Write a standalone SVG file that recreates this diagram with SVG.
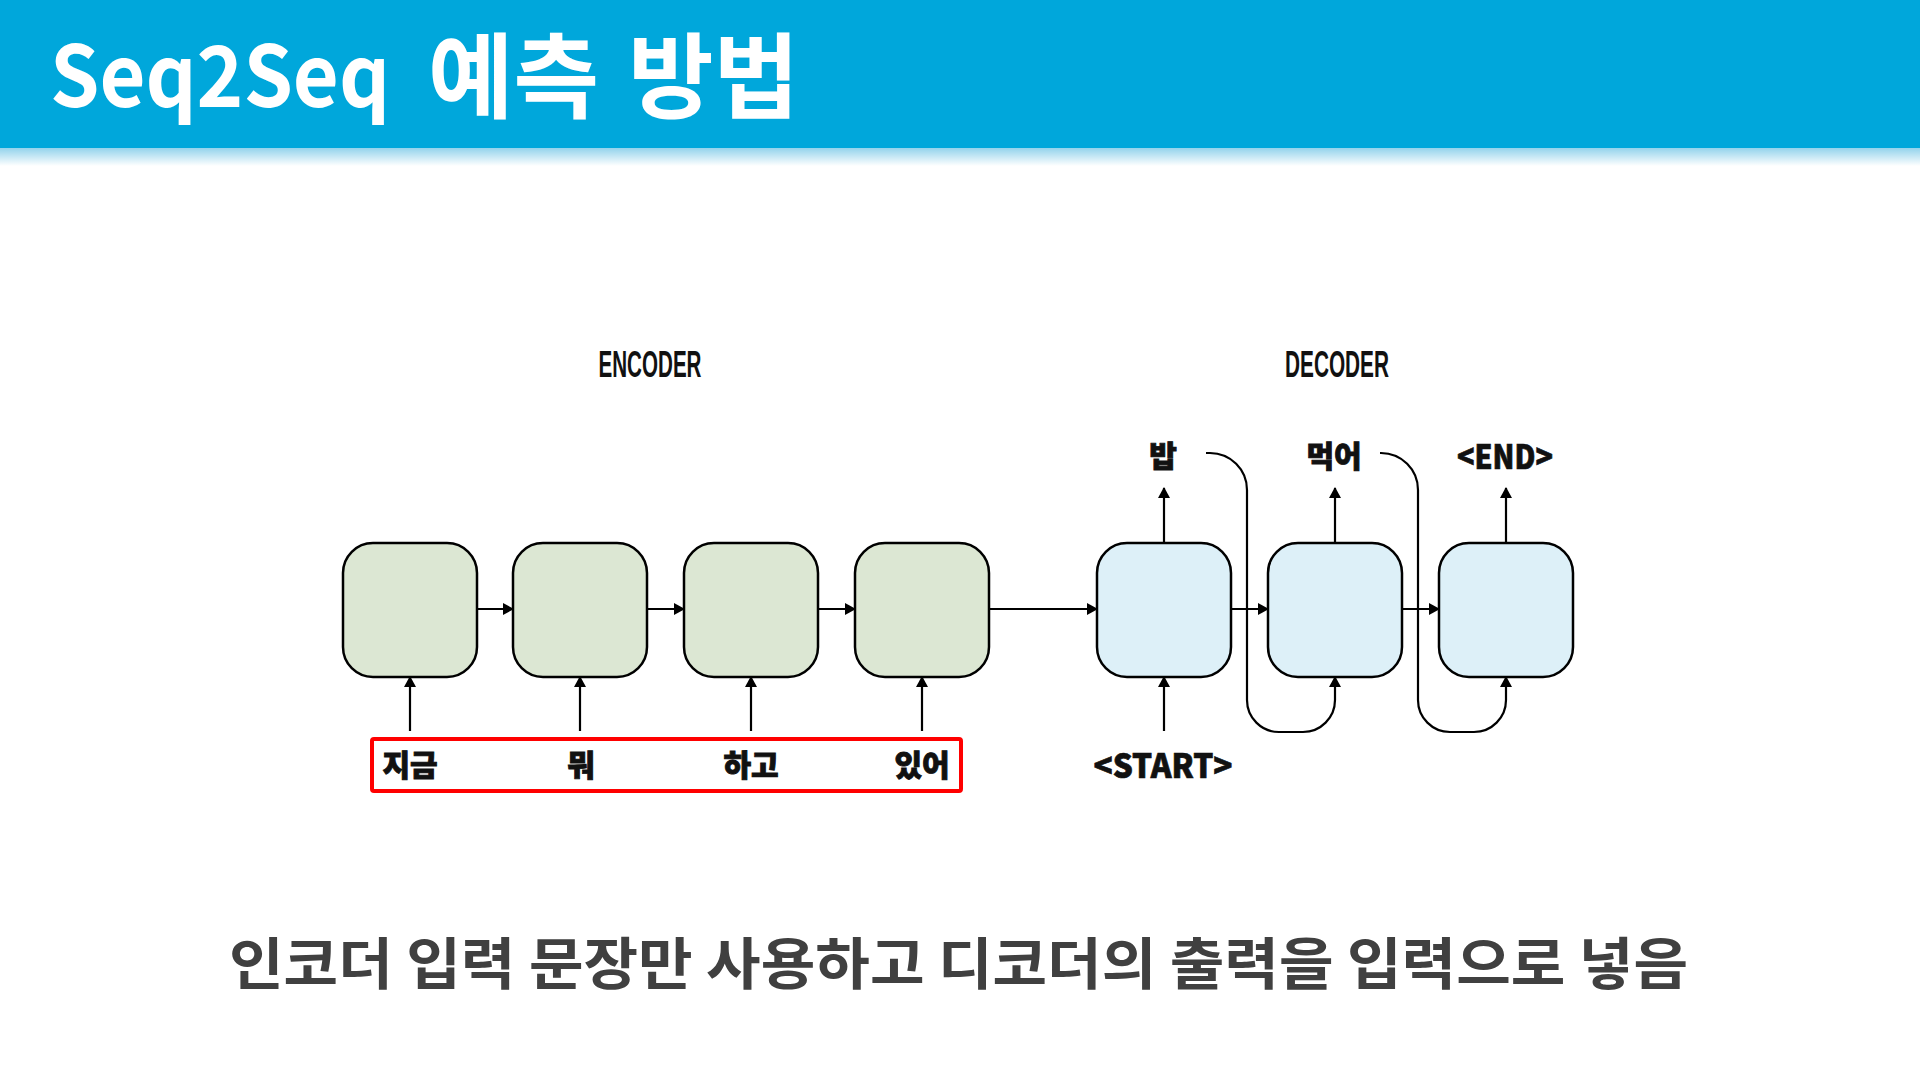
<svg xmlns="http://www.w3.org/2000/svg" width="1920" height="1080" viewBox="0 0 1920 1080">
<style>
.title{font-family:"Noto Sans CJK KR","Noto Sans",sans-serif;font-weight:700;font-size:85px;fill:#fff}
.hg{font-size:93px}
.sec{font-family:"Liberation Sans",sans-serif;font-weight:700;font-size:37px;fill:#111}
.lbl{font-family:"Noto Sans CJK KR","Noto Sans",sans-serif;font-weight:900;font-size:30px;fill:#111;stroke:#111;stroke-width:0.9;text-anchor:middle}
.tok{font-family:"Noto Sans CJK KR","Noto Sans",sans-serif;font-weight:900;font-size:33px;fill:#111;stroke:#111;stroke-width:0.7;text-anchor:middle}
.enc{fill:#DCE7D3;stroke:#000;stroke-width:2.5}
.dec{fill:#DDF0F8;stroke:#000;stroke-width:2.5}
.con{fill:none;stroke:#000;stroke-width:2.2}
.arr{marker-end:url(#ah)}
.cap{font-family:"Noto Sans CJK KR","Noto Sans",sans-serif;font-weight:700;font-size:56px;fill:#404040}
</style>
<defs>
<marker id="ah" markerUnits="userSpaceOnUse" markerWidth="11" markerHeight="12" refX="10" refY="6" orient="auto">
<path d="M0,0 L11,6 L0,12 z" fill="#000"/>
</marker>
<linearGradient id="sh" x1="0" y1="0" x2="0" y2="1">
<stop offset="0" stop-color="#93D3EC"/>
<stop offset="1" stop-color="#FFFFFF"/>
</linearGradient>
</defs>
<rect width="1920" height="1080" fill="#fff"/>
<g id="header">
<rect x="0" y="148" width="1920" height="18" fill="url(#sh)"/>
<rect x="0" y="0" width="1920" height="148" fill="#00A7DB"/>
<text class="title" y="107"><tspan x="50" textLength="340" lengthAdjust="spacingAndGlyphs">Seq2Seq</tspan><tspan class="hg" x="428" y="111">예측</tspan><tspan class="hg" x="628" y="111">방법</tspan></text>
</g>
<text class="sec" x="650" y="377" text-anchor="middle" textLength="103" lengthAdjust="spacingAndGlyphs">ENCODER</text>
<text class="sec" x="1337" y="377" text-anchor="middle" textLength="104" lengthAdjust="spacingAndGlyphs">DECODER</text>

<g id="enc1"><rect class="enc" x="343" y="543" width="134" height="134" rx="30"/></g>
<g id="enc2"><rect class="enc" x="513" y="543" width="134" height="134" rx="30"/></g>
<g id="enc3"><rect class="enc" x="684" y="543" width="134" height="134" rx="30"/></g>
<g id="enc4"><rect class="enc" x="855" y="543" width="134" height="134" rx="30"/></g>
<g id="dec1"><rect class="dec" x="1097" y="543" width="134" height="134" rx="30"/></g>
<g id="dec2"><rect class="dec" x="1268" y="543" width="134" height="134" rx="30"/></g>
<g id="dec3"><rect class="dec" x="1439" y="543" width="134" height="134" rx="30"/></g>

<g id="inputs">
<rect x="372" y="739" width="589" height="52" rx="2" fill="none" stroke="#FF0000" stroke-width="4"/>
<text class="lbl" x="410" y="776">지금</text>
<text class="lbl" x="581" y="776">뭐</text>
<text class="lbl" x="751" y="776">하고</text>
<text class="lbl" x="922" y="776">있어</text>
<text class="tok" x="1163" y="778" textLength="139" lengthAdjust="spacingAndGlyphs">&lt;START&gt;</text>
</g>
<g id="outputs">
<text class="lbl" x="1163" y="467">밥</text>
<text class="lbl" x="1334" y="467">먹어</text>
<text class="tok" x="1505" y="469" textLength="96" lengthAdjust="spacingAndGlyphs">&lt;END&gt;</text>
</g>

<g id="connectors">
<line class="con arr" x1="477" y1="609" x2="513" y2="609"/>
<line class="con arr" x1="647" y1="609" x2="684" y2="609"/>
<line class="con arr" x1="818" y1="609" x2="855" y2="609"/>
<line class="con arr" x1="989" y1="609" x2="1097" y2="609"/>
<line class="con arr" x1="1231" y1="609" x2="1268" y2="609"/>
<line class="con arr" x1="1402" y1="609" x2="1439" y2="609"/>
<line class="con arr" x1="410" y1="731" x2="410" y2="677"/>
<line class="con arr" x1="580" y1="731" x2="580" y2="677"/>
<line class="con arr" x1="751" y1="731" x2="751" y2="677"/>
<line class="con arr" x1="922" y1="731" x2="922" y2="677"/>
<line class="con arr" x1="1164" y1="731" x2="1164" y2="677"/>
<line class="con arr" x1="1164" y1="543" x2="1164" y2="488"/>
<line class="con arr" x1="1335" y1="543" x2="1335" y2="488"/>
<line class="con arr" x1="1506" y1="543" x2="1506" y2="488"/>
<path class="con arr" d="M1206,453 H1210 A37,37 0 0 1 1247,490 V700 A32,32 0 0 0 1279,732 H1303 A32,32 0 0 0 1335,700 V677"/>
<path class="con arr" d="M1380,453 H1381 A37,37 0 0 1 1418,490 V700 A32,32 0 0 0 1450,732 H1474 A32,32 0 0 0 1506,700 V677"/>
</g>

<text class="cap" x="229" y="984" textLength="1459" lengthAdjust="spacingAndGlyphs">인코더 입력 문장만 사용하고 디코더의 출력을 입력으로 넣음</text>
</svg>
